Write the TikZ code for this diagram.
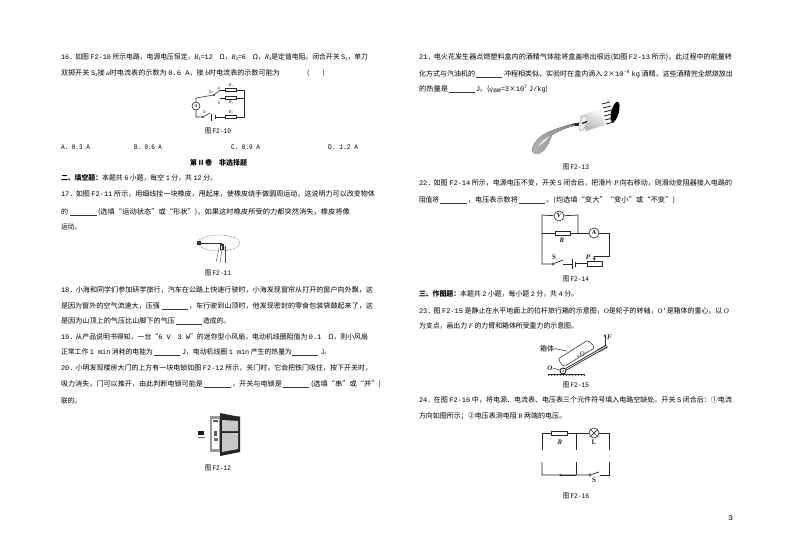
\documentclass[tikz,border=0pt]{standalone}
\usepackage{fontspec}
\usepackage{graphicx}
\usetikzlibrary{arrows.meta,patterns}
\setmainfont{Noto Sans CJK SC}
\newfontfamily\monof{Liberation Mono}
\newfontfamily\serf{Liberation Serif}
\newcommand{\mo}[1]{{\monof #1}}
\newcommand{\vr}[1]{{\serf\itshape #1}}
\newcommand{\sbx}[1]{\raisebox{-0.25ex}{\scalebox{0.6}{#1}}}
\newcommand{\seg}[5]{\node[txt,name=#1] at (#2,{#4+2.5}) {\resizebox{\dimexpr #3pt-#2pt\relax}{\height}{#5}};}
\newcommand{\blank}[3]{\draw[ul] (#1,{#3+3}) -- (#2,{#3+3});}
\newcommand{\figcap}[3]{\node[txt,name=#1] at ({#2-13},{#3+2.5}) {\resizebox{26pt}{\height}{图 \mo{#1}}};}
\tikzset{
 txt/.style={anchor=base west,inner sep=0pt,outer sep=0pt,font=\fontsize{7}{8}\selectfont,text=black},
 ul/.style={line width=0.45pt,black!80},
 wire/.style={line width=0.7pt,black!85},
 comp/.style={draw=black!85,line width=0.6pt,fill=white,inner sep=0pt},
 meter/.style={comp,circle,minimum size=#1},
 rbox/.style={comp,rectangle,minimum width=#1,minimum height=4pt},
 lab/.style={inner sep=0pt,font=\fontsize{6}{7}\selectfont,text=black!85},
 dot/.style={comp,circle,minimum size=2.4pt}
}
\begin{document}
\begin{tikzpicture}[x=1pt,y=-1pt]
\useasboundingbox[fill=white] (0,0) rectangle (794,558);
% --- left column
\seg{q16a}{61}{368}{57}{\mo{16.} 如图 \mo{F2-10} 所示电路，电源电压恒定，\vr{R}\sbx{1}=\mo{12}\hspace{1em}Ω，\vr{R}\sbx{2}=\mo{6}\hspace{1em}Ω，\vr{R}\sbx{3}是定值电阻。闭合开关 \mo{S}\sbx{1}，单刀}
\seg{q16b}{61}{280}{73}{双掷开关 \mo{S}\sbx{2}接 \vr{a}时电流表的示数为 \mo{0.6 A}，接 \vr{b}时电流表的示数可能为}
\seg{q16c}{307}{325}{73}{(\hspace{2em})}
\seg{optA}{61}{90}{147}{\mo{A. 0.3 A}}
\seg{optB}{134}{162}{147}{\mo{B. 0.6 A}}
\seg{optC}{231}{260}{147}{\mo{C. 0.9 A}}
\seg{optD}{328}{358}{147}{\mo{D. 1.2 A}}
\seg{head}{190}{247}{163}{\bfseries 第 II 卷\hspace{1em}非选择题}
\seg{sec2}{61}{217}{178}{\textbf{二、填空题：}本题共 \mo{6} 小题，每空 \mo{1} 分，共 \mo{12} 分。}
\seg{q17a}{61}{375}{194}{\mo{17.} 如图 \mo{F2-11} 所示，用细线拴一块橡皮，甩起来，使橡皮绕手做圆周运动，这说明力可以改变物体}
\seg{q17b}{61}{68}{212}{的}\blank{70}{97}{212}
\seg{q17c}{98}{350}{212}{(选填“运动状态”或“形状”)，如果这时橡皮所受的力都突然消失，橡皮将像}
\seg{q17d}{61}{81}{227}{运动。}
\seg{q18a}{61}{373}{290}{\mo{18.} 小海和同学们参加研学旅行，汽车在公路上快速行驶时，小海发现窗帘从打开的窗户向外飘，这}
\seg{q18b}{61}{160}{306}{是因为窗外的空气流速大，压强}\blank{162}{188}{306}
\seg{q18c}{189}{373}{306}{，车行驶到山顶时，他发现密封的零食包装袋鼓起来了，这}
\seg{q18d}{61}{175}{321}{是因为山顶上的气压比山脚下的气压}\blank{176}{202}{321}
\seg{q18e}{203}{230}{321}{造成的。}
\seg{q19a}{61}{368}{337}{\mo{19.} 从产品说明书得知，一台“\mo{6 V\hspace{1em}3 W}”的迷你型小风扇，电动机线圈阻值为 \mo{0.1}\hspace{1em}Ω，则小风扇}
\seg{q19b}{61}{153}{352}{正常工作 \mo{1 min} 消耗的电能为}\blank{154}{180}{352}
\seg{q19c}{182}{292}{352}{\mo{J}，电动机线圈 \mo{1 min} 产生的热量为}\blank{292}{318}{352}
\seg{q19d}{321}{330}{352}{\mo{J}。}
\seg{q20a}{61}{372}{368}{\mo{20.} 小明发现楼房大门的上方有一块电锁如图 \mo{F2-12} 所示，关门时，它会把铁门吸住，按下开关时，}
\seg{q20b}{61}{203}{384}{吸力消失，门可以推开，由此判断电锁可能是}\blank{204}{231}{384}
\seg{q20c}{232}{282}{384}{，开关与电锁是}\blank{283}{309}{384}
\seg{q20d}{311}{381}{384}{(选填“串”或“并”)}
\seg{q20e}{61}{81}{401}{联的。}
% --- right column
\seg{q21a}{419}{732}{57}{\mo{21.} 电火花发生器点燃塑料盒内的酒精气体能将盒盖喷出很远(如图 \mo{F2-13} 所示)，此过程中的能量转}
\seg{q21b}{419}{475}{74}{化方式与汽油机的}\blank{476}{502}{74}
\seg{q21c}{504}{733}{74}{冲程相类似，实验时在盒内滴入 \mo{2}×\mo{10}\textsuperscript{\mo{-4}} \mo{kg} 酒精，这些酒精完全燃烧放出}
\seg{q21d}{419}{448}{89}{的热量是}\blank{449}{475}{89}
\seg{q21e}{476}{548}{89}{\mo{J}。(\vr{q}\sbx{酒精}=\mo{3}×\mo{10}\textsuperscript{\mo{7}} \mo{J/kg})}
\seg{q22a}{419}{732}{183}{\mo{22.} 如图 \mo{F2-14} 所示，电源电压不变，开关 \mo{S} 闭合后，把滑片 \vr{P} 向右移动，则滑动变阻器接入电路的}
\seg{q22b}{419}{439}{200}{阻值将}\blank{440}{467}{200}
\seg{q22c}{468}{518}{200}{，电压表示数将}\blank{519}{545}{200}
\seg{q22d}{546}{675}{200}{。(均选填“变大”“变小”或“不变”)}
\seg{sec3}{419}{578}{294}{\textbf{三、作图题：}本题共 \mo{2} 小题，每小题 \mo{2} 分，共 \mo{4} 分。}
\seg{q23a}{419}{729}{311}{\mo{23.} 图 \mo{F2-15} 是静止在水平地面上的拉杆旅行箱的示意图，\vr{O}是轮子的转轴，\vr{O}\mo{'}是箱体的重心。以 \vr{O}}
\seg{q23b}{419}{578}{326}{为支点，画出力 \vr{F} 的力臂和箱体所受重力的示意图。}
\seg{q24a}{419}{732}{400}{\mo{24.} 在图 \mo{F2-16} 中，将电源、电流表、电压表三个元件符号填入电路空缺处。开关 \mo{S} 闭合后：①电流}
\seg{q24b}{419}{566}{416}{方向如图所示；②电压表测电阻 \vr{R} 两端的电压。}
\seg{pageno}{728}{733}{518}{\mo{3}}
% captions
\figcap{F2-10}{218}{131}
\figcap{F2-11}{218}{273}
\figcap{F2-12}{218}{468}
\figcap{F2-13}{576}{167}
\figcap{F2-14}{576}{279}
\figcap{F2-15}{576}{385}
\figcap{F2-16}{576}{496}
% --- F2-10 circuit
\node[meter=8pt,font=\fontsize{5}{5}\selectfont\serf\itshape] (a10) at (196,106) {A};
\node[rbox=11pt,minimum height=3pt] (r1) at (231,90) {};
\node[rbox=11pt,minimum height=3pt] (r2) at (231,98) {};
\node[rbox=11pt,minimum height=3pt] (r3) at (231,117) {};
\node[dot,minimum size=1.5pt] (s2p) at (214,95) {};
\node[dot,minimum size=1.5pt] (s1p) at (203,117) {};
\coordinate (ca) at (220,90); \coordinate (cb) at (220,98);
\coordinate (tl) at (196,98); \coordinate (bl) at (196,117);
\coordinate (tr) at (244,90); \coordinate (mr) at (244,98); \coordinate (br) at (244,117);
\coordinate (s1e) at (210,113); \coordinate (s1r) at (211,117);
\coordinate (b1t) at (211,113.5); \coordinate (b1b) at (211,120.5);
\coordinate (b2t) at (215,115); \coordinate (b2b) at (215,119);
\draw[wire,line width=0.55pt] (a10) -- (tl) -- (s2p) -- (ca);
\draw[wire,line width=0.55pt] (ca) -- (r1) -- (tr) -- (br) -- (r3) -- (b2t|-r3);
\draw[wire,line width=0.55pt] (cb) -- (r2) -- (mr);
\draw[wire,line width=0.55pt] (a10) -- (bl) -- (s1p) -- (s1e);
\draw[wire,line width=0.55pt] (b1t) -- (b1b) (b2t) -- (b2b) (s1r) -- (b1t|-r3);
\node[lab,font=\fontsize{4.5}{5}\selectfont\serf\itshape] (ls2) at (211,92) {S\sbx{2}};
\node[lab,font=\fontsize{4.5}{5}\selectfont\serf\itshape] (la) at (219,88) {a};
\node[lab,font=\fontsize{4.5}{5}\selectfont\serf\itshape] (lb) at (219,103) {b};
\node[lab,font=\fontsize{4.5}{5}\selectfont\serf\itshape] (lr1) at (231,85.5) {R\sbx{1}};
\node[lab,font=\fontsize{4.5}{5}\selectfont\serf\itshape] (lr2) at (231,102.5) {R\sbx{2}};
\node[lab,font=\fontsize{4.5}{5}\selectfont\serf\itshape] (lr3) at (231,112) {R\sbx{3}};
\node[lab,font=\fontsize{4.5}{5}\selectfont\serf\itshape] (ls1) at (205,112) {S\sbx{1}};
% --- F2-11 figure
\draw[densely dotted,line width=0.5pt,black!80] (219,243) ellipse (21 and 8);
\node[comp,fill=black!75,minimum width=2.5pt,minimum height=3.5pt] (eraser) at (199,243) {};
\coordinate (handp) at (222,243);
\draw[line width=0.8pt,black!80] (eraser) -- (handp);
\fill[black!80] (220,243) -- (224,244) -- (224,250) -- (220,250) -- cycle;
\draw[line width=0.4pt,black!70] (219,248) .. controls (218,254) and (217,258) .. (216,262);
\draw[line width=0.4pt,black!70] (222,250) -- (220,263);
\draw[line width=0.4pt,black!70] (225,246) -- (225,263);
\fill[white] (221,246) rectangle (222,249);
% --- F2-12 figure
\fill[black!40] (210,416) rectangle (222,452);
\fill[white] (212,419) rectangle (219,449);
\fill[black!65] (213,420) rectangle (218,421.5);
\fill[black!65] (214,431) rectangle (217,436);
\fill[black!55] (214,438) rectangle (218,441);
\fill[black!40] (222,416) rectangle (240,452);
\fill[black!85] (220,413) -- (240,417) -- (240,452) -- (220,456) -- cycle;
\fill[black!22] (222,420) -- (238,421) -- (238,431) -- (222,431) -- cycle;
\fill[black!22] (222,433) -- (238,433) -- (238,449) -- (222,452) -- cycle;
\fill[black!90] (198,431) rectangle (204,435);
\fill[black!60] (198,436.5) rectangle (204.5,438);
% --- F2-13 figure
\fill[left color=black!30,right color=black!50] (533,146) .. controls (537,138) and (543,134) .. (553,130) .. controls (562,127) and (570,124) .. (578,123) -- (579,125) .. controls (570,126) and (560,130) .. (552,135) .. controls (549,142) and (546,151) .. (538,154) .. controls (533,155) and (531,151) .. (533,146) -- cycle;
\fill[black!10] (538,146) .. controls (541,141) and (546,138) .. (550,136) .. controls (547,140) and (543,144) .. (538,146) -- cycle;
\draw[line width=0.7pt,black!90] (572,124.5) -- (580,123);
\fill[black!85] (575,123) rectangle (579,126);
\shade[top color=white,bottom color=black!30,shading angle=-20] (580,116) -- (601,108) -- (605,125) -- (586,131) -- cycle;
\draw[black!45,line width=0.3pt,fill=black!8,rotate around={-18:(583,123)}] (583,123) ellipse (3.5 and 8);
\draw[line width=1.2pt,black!90] (582,123.5) -- (587,121.5);
\fill[black,rotate around={-15:(615,112)}] (615,112) ellipse (3.8 and 10.5);
\foreach \i/\a/\b in {0/602/104,1/603/108,2/604/112,3/604/116,4/605/120,5/606/124}{
 \draw[line width=0.8pt,black!90] (\a,\b) -- ({\a+8},{\b-2});}
% --- F2-14 circuit
\node[meter=10pt,font=\fontsize{6}{6}\selectfont\serf\bfseries] (v14) at (559,216) {V};
\node[meter=10pt,font=\fontsize{6}{6}\selectfont\serf\bfseries] (a14) at (594,233) {A};
\node[rbox=15pt] (r14) at (562.5,233) {};
\node[rbox=15pt,minimum height=5pt] (p14) at (594.5,263.5) {};
\node[dot] (s14) at (553,264) {};
\coordinate (tl14) at (542,215); \coordinate (ml14) at (542,233); \coordinate (bl14) at (542,264);
\coordinate (tr14) at (578,215); \coordinate (mr14) at (578,233);
\coordinate (r14a) at (609,233); \coordinate (r14b) at (609,256); \coordinate (r14c) at (594,256);
\coordinate (se14) at (563,260); \coordinate (sr14) at (563,264);
\coordinate (b1a) at (572,259); \coordinate (b1b) at (572,269);
\coordinate (b2a) at (575,261.5); \coordinate (b2b) at (575,266.5);
\draw[wire] (v14) -- (tl14) -- (bl14) -- (s14) -- (se14);
\draw[wire] (v14) -- (tr14) -- (mr14);
\draw[wire] (ml14) -- (r14) -- (a14) -- (r14a) -- (r14b) -- (r14c);
\draw[wire,-{Stealth[length=3pt,width=3pt]}] (r14c) -- (p14.north);
\draw[wire] (sr14) -- (b1a|-sr14) (b1a) -- (b1b) (b2a) -- (b2b) (b2a|-p14) -- (p14);
\node[lab,font=\fontsize{7}{7}\selectfont\serf\itshape\bfseries] (lr14) at (562,240) {R};
\node[lab,font=\fontsize{7}{7}\selectfont\serf\bfseries] (ls14) at (554,257.5) {S};
\node[lab,font=\fontsize{7}{7}\selectfont\serf\itshape\bfseries] (lp14) at (588,257.5) {P};
% --- F2-15 figure
\node[dot,minimum size=6pt,line width=0.9pt] (w15) at (563,371) {};
\node[fill=black,circle,inner sep=0pt,minimum size=1.5pt] (ax15) at (563,371) {};
\coordinate (g1) at (548,374); \coordinate (g2) at (585,374);
\draw[line width=0.5pt,black!85,rounded corners=2.5pt] (563.5,367) -- (558,359) -- (588,340) -- (595,347.5) -- cycle;
\draw[line width=0.9pt,black!85,double=white,double distance=0.7pt] (w15) -- (598,351);
\draw[line width=1pt,black!85,double=black!25,double distance=1.2pt] (598,351) -- (607,346);
\fill[pattern=north east lines,pattern color=black!70] (548,374) rectangle (585,375.5);
\draw[line width=0.7pt,black!85] (g1) -- (g2);
\coordinate (f0) at (605,346); \coordinate (f1) at (605,334);
\draw[line width=0.5pt,black!85,-{Stealth[length=3pt,width=2.5pt]}] (f0) -- (f1);
\node[lab,font=\fontsize{7}{7}\selectfont\serf\itshape\bfseries] (lf) at (609.5,337) {F};
\node[txt,anchor=center,font=\fontsize{7}{8}\selectfont,name=lbox] at (547,348.5) {箱体};
\coordinate (boxedge) at (567,351);
\draw[line width=0.5pt,black!85] (lbox.east) -- (boxedge);
\node[fill=black,circle,inner sep=0pt,minimum size=1.5pt] (o15) at (578,356) {};
\node[lab,font=\fontsize{7}{7}\selectfont\serf\itshape,anchor=west] (lo2) at (579.5,354) {O'};
\node[lab,font=\fontsize{7}{7}\selectfont\serf\itshape\bfseries] (lo) at (550,368) {O};
\draw[line width=0.5pt,black!85] (lo.east) -- (w15);
% --- F2-16 circuit
\node[rbox=16pt] (r16) at (559,433) {};
\node[meter=10pt] (l16) at (594,433) {};
\draw[wire] (l16.north west) -- (l16.south east) (l16.north east) -- (l16.south west);
\node[dot] (s16) at (590,475) {};
\coordinate (u1) at (542,450); \coordinate (tl16) at (542,433); \coordinate (tm16) at (576,433); \coordinate (tr16) at (609,433);
\coordinate (u2) at (576,450); \coordinate (u3) at (609,450);
\coordinate (d1) at (542,462); \coordinate (bl16) at (542,475); \coordinate (bm16) at (576,475); \coordinate (br16) at (609,475);
\coordinate (d2) at (576,462); \coordinate (d3) at (609,462);
\coordinate (se16) at (599,472); \coordinate (sr16) at (600,475); \coordinate (ar16) at (559,475);
\draw[wire] (u1) -- (tl16) -- (r16) -- (tm16) -- (l16) -- (tr16) -- (u3);
\draw[wire] (tm16) -- (u2);
\draw[wire] (d1) -- (bl16) -- (bm16) -- (s16) -- (se16);
\draw[wire] (d2) -- (bm16);
\draw[wire] (d3) -- (br16) -- (sr16);
\draw[wire,-{Stealth[length=2.5pt,width=2.5pt]}] (bm16) -- (ar16);
\node[lab,font=\fontsize{7}{7}\selectfont\serf\itshape\bfseries] (lr16) at (560,442) {R};
\node[lab,font=\fontsize{7}{7}\selectfont\serf\bfseries] (ll16) at (594,442) {L};
\node[lab,font=\fontsize{7}{7}\selectfont\serf\bfseries] (ls16) at (594,480.5) {S};
\end{tikzpicture}
\end{document}
